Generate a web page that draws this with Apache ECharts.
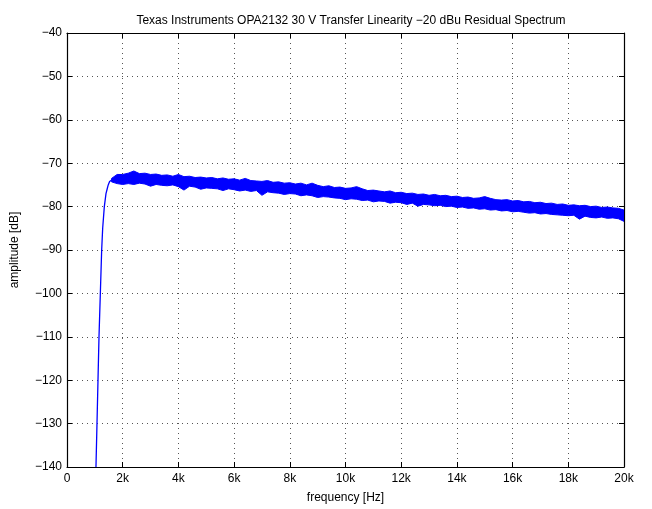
<!DOCTYPE html>
<html>
<head>
<meta charset="utf-8">
<script src="https://cdn.jsdelivr.net/npm/echarts@6/dist/echarts.min.js"></script>
<style>
  html, body { margin: 0; padding: 0; background: #fff; }
  #chart { width: 652px; height: 509px; }
</style>
</head>
<body>
<div id="chart"></div>
<script>
// steep rise near 1 kHz
const riseHz = [1040, 1077, 1113, 1149, 1197, 1245, 1281, 1340, 1400, 1440, 1480, 1530, 1600];
const riseDb = [-140, -130, -120, -110, -100, -90, -85, -80, -77, -76, -75, -74.2, -73.9];

// noise band above 1.6 kHz: upper and lower edge, one value every 200 Hz
const bandStartHz = 1600;
const bandStepHz = 200;
const bandTopDb = [
  -73.5, -72.6, -72.6, -72.3, -71.8, -72.4, -72.3, -72.6, -72.5, -72.8,
  -72.7, -73.0, -72.6, -73.1, -73.0, -73.3, -73.2, -73.4, -73.3, -73.6,
  -73.4, -73.7, -73.6, -73.9, -73.5, -74.0, -74.1, -74.2, -74.0, -74.4,
  -74.3, -74.6, -74.5, -74.8, -74.6, -75.0, -74.6, -75.1, -75.4, -75.2,
  -75.6, -75.5, -75.8, -75.7, -75.4, -75.9, -76.3, -76.2, -76.4, -76.6,
  -76.4, -76.8, -76.7, -77.0, -76.9, -77.2, -77.1, -77.4, -77.2, -77.5,
  -77.4, -77.7, -77.6, -77.9, -77.8, -78.1, -78.0, -77.7, -78.1, -78.4,
  -78.5, -78.4, -78.7, -78.6, -78.9, -78.8, -79.1, -79.0, -79.3, -79.2,
  -79.5, -79.4, -79.7, -79.6, -79.8, -79.7, -80.0, -79.9, -80.2, -80.1,
  -80.3, -80.4, -80.8
];
const bandBottomDb = [
  -74.3, -74.7, -74.9, -74.7, -74.9, -74.6, -74.8, -75.3, -74.9, -75.1,
  -75.2, -75.0, -75.4, -76.2, -75.3, -75.5, -76.0, -75.7, -75.8, -75.9,
  -76.3, -75.9, -76.1, -76.4, -76.2, -76.5, -76.3, -77.4, -76.6, -76.8,
  -76.9, -77.2, -77.0, -77.1, -77.5, -77.3, -77.5, -77.9, -77.7, -77.8,
  -78.0, -78.1, -78.4, -78.2, -78.3, -78.6, -78.5, -78.9, -78.7, -78.8,
  -79.2, -79.0, -79.1, -79.5, -79.2, -79.9, -79.5, -79.6, -79.8, -79.7,
  -80.0, -79.9, -80.2, -80.1, -80.4, -80.3, -80.6, -80.5, -80.8, -80.7,
  -81.0, -80.9, -81.2, -81.1, -81.3, -81.5, -81.4, -81.7, -81.6, -81.8,
  -81.9, -82.0, -82.1, -82.0, -82.9, -82.2, -82.5, -82.6, -82.4, -82.7,
  -82.6, -82.8, -83.4
];

const xTickLabels = ['0', '2k', '4k', '6k', '8k', '10k', '12k', '14k', '16k', '18k', '20k'];

const risePoints = riseHz.map((f, i) => [f, riseDb[i]]);
const bandHz = bandTopDb.map((v, i) => bandStartHz + i * bandStepHz);

const blue = '#0000ff';
const font = 'Liberation Sans, Arial, Helvetica, sans-serif';
const dotted = { show: true, lineStyle: { color: '#555', type: [1, 4], width: 1 } };
const boxLine = { show: true, onZero: false, lineStyle: { color: '#000', width: 1.2 } };
const inTicks = { show: true, inside: true, length: 5, lineStyle: { color: '#000' } };

// band drawn as one polygon: upper edge left to right, lower edge back
function renderBand(params, api) {
  const pts = [];
  bandHz.forEach((f, i) => pts.push(api.coord([f, bandTopDb[i]])));
  for (let i = bandHz.length - 1; i >= 0; i--) pts.push(api.coord([bandHz[i], bandBottomDb[i]]));
  return {
    type: 'polygon',
    shape: { points: pts },
    style: { fill: blue, stroke: blue, lineWidth: 1 }
  };
}

const chart = echarts.init(document.getElementById('chart'));
chart.setOption({
  animation: false,
  backgroundColor: '#fff',
  title: {
    text: 'Texas Instruments OPA2132 30 V Transfer Linearity \u221220 dBu Residual Spectrum',
    left: 346,
    top: 10,
    textAlign: 'center',
    textStyle: { fontFamily: font, fontSize: 12, fontWeight: 'normal', color: '#000' }
  },
  grid: { left: 67, right: 28, top: 33, bottom: 38 },
  xAxis: [
    {
      type: 'value', min: 0, max: 20000, interval: 2000,
      name: 'frequency [Hz]', nameLocation: 'middle', nameGap: 25,
      nameTextStyle: { fontFamily: font, fontSize: 12, color: '#000' },
      axisLine: boxLine, axisTick: inTicks, splitLine: dotted,
      axisLabel: {
        fontFamily: font, fontSize: 12, color: '#000', margin: 6,
        formatter: v => xTickLabels[Math.round(v / 2000)]
      }
    },
    {
      type: 'value', position: 'top', min: 0, max: 20000, interval: 2000,
      axisLine: boxLine, axisTick: inTicks, splitLine: { show: false },
      axisLabel: { show: false }
    }
  ],
  yAxis: [
    {
      type: 'value', min: -140, max: -40, interval: 10,
      name: 'amplitude [dB]', nameLocation: 'middle', nameGap: 46,
      nameTextStyle: { fontFamily: font, fontSize: 12, color: '#000' },
      axisLine: boxLine, axisTick: inTicks, splitLine: dotted,
      axisLabel: {
        fontFamily: font, fontSize: 12, color: '#000', margin: 5,
        formatter: v => (v < 0 ? '\u2212' + Math.abs(v) : String(v))
      }
    },
    {
      type: 'value', position: 'right', min: -140, max: -40, interval: 10,
      axisLine: boxLine, axisTick: inTicks, splitLine: { show: false },
      axisLabel: { show: false }
    }
  ],
  series: [
    {
      type: 'line',
      data: risePoints,
      showSymbol: false,
      lineStyle: { color: blue, width: 1.3 }
    },
    {
      type: 'custom',
      renderItem: renderBand,
      data: [[bandStartHz, bandTopDb[0]]],
      clip: true
    }
  ]
});
</script>
</body>
</html>
